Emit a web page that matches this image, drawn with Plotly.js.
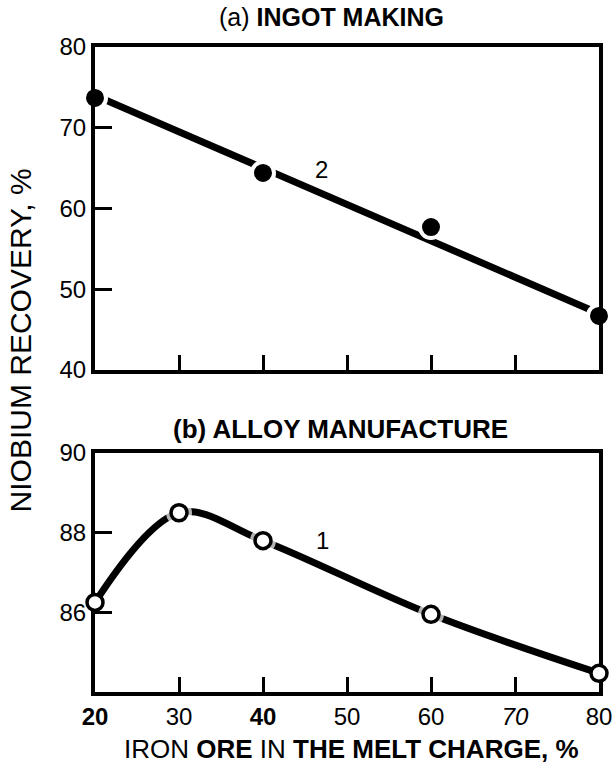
<!DOCTYPE html>
<html>
<head>
<meta charset="utf-8">
<script src="https://cdn.plot.ly/plotly-3.0.1.min.js"></script>
<style>html,body{margin:0;padding:0;background:#fff;}#chart{width:615px;height:769px;}</style>
</head>
<body>
<div id="chart"></div>
<script>
// ---- data ----
var ironOre = [20, 40, 60, 80];                 // % iron ore, ingot making
var ingotRecovery = [73.7, 64.4, 57.7, 46.7];   // niobium recovery, %
var ingotFitX = [20, 80];                       // fitted line 2
var ingotFitY = [74.0, 47.0];

var alloyOre = [20, 30, 40, 60, 80];            // % iron ore, alloy manufacture
var alloyRecovery = [86.25, 88.5, 87.8, 85.95, 84.47];

var xTickVals = [20, 30, 40, 50, 60, 70, 80];
var xTickText = ['<b>20</b>', '30', '<b>40</b>', '50', '60', '<i>70</i>', '80'];
var yTopTicks = [40, 50, 60, 70, 80];
var yBotTicks = [86, 88, 90];

var FONT = 'Liberation Sans, Arial, sans-serif';

var traces = [
  // (a) fitted line
  {x: ingotFitX, y: ingotFitY, xaxis: 'x', yaxis: 'y', mode: 'lines',
   line: {color: '#000', width: 7}, cliponaxis: false, hoverinfo: 'skip'},
  // (a) points
  {x: ironOre, y: ingotRecovery, xaxis: 'x', yaxis: 'y', mode: 'markers',
   marker: {color: '#000', size: 22, line: {color: '#fff', width: 4}}, cliponaxis: false},
  // (b) smooth curve
  {x: alloyOre, y: alloyRecovery, xaxis: 'x2', yaxis: 'y2', mode: 'lines',
   line: {color: '#000', width: 7, shape: 'spline', smoothing: 1}, cliponaxis: false, hoverinfo: 'skip'},
  // (b) white gaps around interior points
  {x: alloyOre, y: alloyRecovery, xaxis: 'x2', yaxis: 'y2', mode: 'markers',
   marker: {color: '#fff', size: alloyOre.map(function(v, i){ return (i === 0 || i === alloyOre.length - 1) ? 0 : 26; }), line: {width: 0}},
   cliponaxis: false, hoverinfo: 'skip'},
  // (b) open circles
  {x: alloyOre, y: alloyRecovery, xaxis: 'x2', yaxis: 'y2', mode: 'markers',
   marker: {color: '#fff', size: 16, line: {color: '#000', width: 3.5}}, cliponaxis: false}
];

var axisCommon = {
  showgrid: false, zeroline: false, showline: true, linecolor: '#000', linewidth: 4,
  mirror: true, ticks: 'inside', tickcolor: '#000', tickwidth: 3,
  tickfont: {family: FONT, size: 24, color: '#000'}, tickmode: 'array', fixedrange: true
};
function ax(extra) { return Object.assign({}, axisCommon, extra); }

var layout = {
  width: 615, height: 769,
  margin: {l: 95, r: 16, t: 47, b: 77},
  paper_bgcolor: '#fff', plot_bgcolor: '#fff',
  showlegend: false,
  font: {family: FONT, color: '#000'},
  xaxis: ax({domain: [0, 1], anchor: 'y', range: [20, 80], tickvals: xTickVals.slice(1, -1),
             showticklabels: false, ticklen: 15, layer: 'above traces'}),
  yaxis: ax({domain: [0.4992, 1], anchor: 'x', range: [40, 80], tickvals: yTopTicks,
             ticklen: 17, layer: 'above traces'}),
  xaxis2: ax({domain: [0, 1], anchor: 'y2', range: [20, 80], tickvals: xTickVals, ticktext: xTickText,
              ticklen: 15, layer: 'below traces'}),
  yaxis2: ax({domain: [0, 0.3705], anchor: 'x2', range: [84, 90], tickvals: yBotTicks,
              ticklen: 17, layer: 'below traces'}),
  annotations: [
    {text: '(a) <b>INGOT MAKING</b>', xref: 'paper', yref: 'paper', x: 0.47, y: 1.046,
     showarrow: false, font: {family: FONT, size: 25}, xanchor: 'center', yanchor: 'middle'},
    {text: '<b>(b) ALLOY MANUFACTURE</b>', xref: 'paper', yref: 'paper', x: 0.487, y: 0.408,
     showarrow: false, font: {family: FONT, size: 26}, xanchor: 'center', yanchor: 'middle'},
    {text: 'IRON <b>ORE</b> IN <b>THE MELT CHARGE, %</b>', xref: 'paper', yref: 'paper', x: 0.508, y: -0.088,
     showarrow: false, font: {family: FONT, size: 26}, xanchor: 'center', yanchor: 'middle'},
    {text: 'NIOBIUM RECOVERY, %', xref: 'paper', yref: 'paper', x: -0.147, y: 0.545,
     showarrow: false, textangle: -90, font: {family: FONT, size: 30}, xanchor: 'center', yanchor: 'middle'},
    {text: '2', xref: 'x', yref: 'y', x: 47, y: 64.8, showarrow: false,
     font: {family: FONT, size: 24}},
    {text: '1', xref: 'x2', yref: 'y2', x: 47.1, y: 87.8, showarrow: false,
     font: {family: FONT, size: 24}}
  ]
};

Plotly.newPlot('chart', traces, layout, {displayModeBar: false, staticPlot: true});
</script>
</body>
</html>
